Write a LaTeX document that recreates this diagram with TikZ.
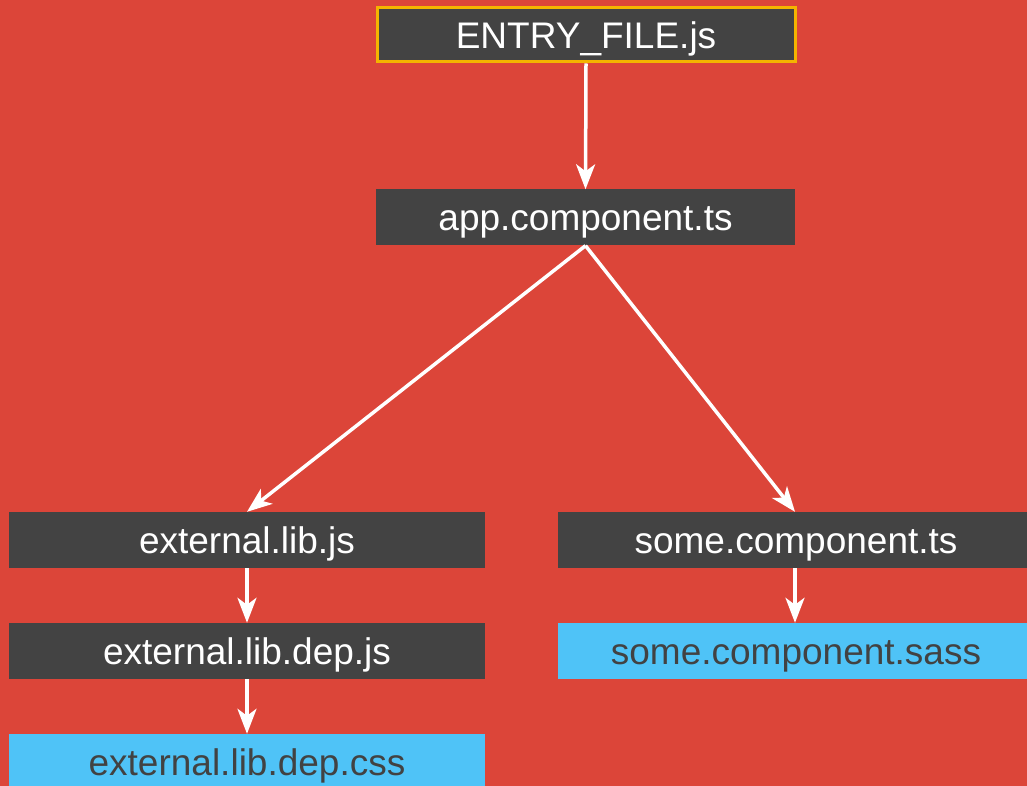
\documentclass[tikz,border=0pt]{standalone}
\usepackage{fontspec}
\setmainfont{Liberation Sans}
\usetikzlibrary{arrows.meta}
\definecolor{bgred}{HTML}{DC4539}
\definecolor{boxdark}{HTML}{434343}
\definecolor{boxblue}{HTML}{4FC3F7}
\definecolor{entryedge}{HTML}{F4B400}
\definecolor{textdark}{HTML}{424242}
\tikzset{
  filebox/.style={rectangle, inner sep=0pt, minimum width=476pt, minimum height=56pt,
    text height=26.5pt, text depth=0pt, font=\fontsize{37}{41}\selectfont},
  darkfile/.style={filebox, fill=boxdark, text=white},
  stylefile/.style={filebox, fill=boxblue, text=textdark},
  entryfile/.style={darkfile, minimum width=418pt, minimum height=54pt, draw=entryedge, line width=3pt},
  link/.style={draw=white, line width=3.5pt, -{Stealth[length=25pt, width=19pt, inset=7pt]}}
}
\begin{document}
\begin{tikzpicture}[x=1pt, y=-1pt]
  \clip (0,0) rectangle (1027,786);
  \fill[bgred] (0,0) rectangle (1027,786);

  \node[entryfile] (entry) at (586,35) {ENTRY\_FILE.js};
  \node[darkfile, minimum width=419pt] (app) at (585.5,217.5) {app.component.ts};
  \node[darkfile] (ext) at (247,540) {external.lib.js};
  \node[darkfile] (extdep) at (247,651) {external.lib.dep.js};
  \node[stylefile] (extcss) at (247,762) {external.lib.dep.css};
  \node[darkfile] (some) at (796,540) {some.component.ts};
  \node[stylefile] (sass) at (796,651) {some.component.sass};

  \draw[link] (entry.south) -- (app.north);
  \draw[link] (app.south) -- (ext.north);
  \draw[link] (app.south) -- ([xshift=-1pt]some.north);
  \draw[link] (ext.south) -- (extdep.north);
  \draw[link] (extdep.south) -- (extcss.north);
  \draw[link] ([xshift=-1pt]some.south) -- ([xshift=-1pt]sass.north);
\end{tikzpicture}
\end{document}
